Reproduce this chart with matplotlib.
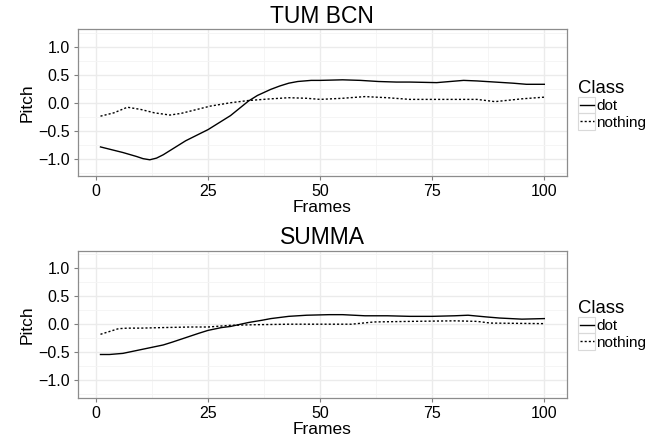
import matplotlib.pyplot as plt
import matplotlib.lines as mlines
from matplotlib.patches import Rectangle
import numpy as np

plt.rcParams["font.family"] = ["Liberation Sans", "DejaVu Sans"]

W, H = 667, 436

# TUM BCN
tum_dot_x = [1, 3, 6, 9, 10.5, 12, 13.5, 15, 17, 20, 22, 25, 28, 30, 32, 34, 36, 39, 41, 43, 45, 48,
             50, 55, 59, 63, 67, 70, 73, 76, 79, 82, 85, 89, 93, 96, 100]
tum_dot_y = [-0.79, -0.83, -0.89, -0.96, -1.0, -1.02, -0.99, -0.93, -0.83, -0.68, -0.60, -0.48,
             -0.33, -0.23, -0.10, 0.03, 0.13, 0.24, 0.30, 0.35, 0.38, 0.40,
             0.40, 0.41, 0.40, 0.38, 0.37, 0.37, 0.365, 0.36, 0.38, 0.40, 0.39, 0.37, 0.35, 0.33,
             0.33]
tum_nothing_x = [1, 4, 7, 10, 13, 16.5, 19, 21, 25.5, 30, 34, 39, 43, 47, 50, 55, 60, 65, 70, 75,
                 80, 85, 89, 95, 100]
tum_nothing_y = [-0.24, -0.18, -0.08, -0.12, -0.18, -0.22, -0.19, -0.15, -0.06, 0.0, 0.04, 0.07,
                 0.09, 0.08, 0.06, 0.08, 0.11, 0.09, 0.06, 0.06, 0.06, 0.06, 0.02, 0.07, 0.10]

# SUMMA
summa_dot_x = [1, 3, 6, 9, 12, 15, 17, 20, 23, 25, 28, 30, 34, 37, 39, 43, 47, 52, 55, 60, 65,
               70, 75, 80, 83, 87, 90, 95, 100]
summa_dot_y = [-0.54, -0.54, -0.52, -0.47, -0.42, -0.37, -0.32, -0.24, -0.16, -0.11, -0.06, -0.04,
               0.03, 0.07, 0.10, 0.14, 0.16, 0.17, 0.17, 0.15, 0.15, 0.14, 0.14, 0.15, 0.16, 0.13,
               0.11, 0.09, 0.10]
summa_nothing_x = [1, 3, 5, 7, 10, 15, 21, 25, 30, 35, 43, 50, 57, 62, 70, 80, 85, 88, 100]
summa_nothing_y = [-0.18, -0.13, -0.08, -0.07, -0.07, -0.06, -0.05, -0.05, -0.02, -0.01, 0.00,
                   0.00, 0.00, 0.04, 0.05, 0.06, 0.05, 0.02, 0.01]

classes = ["dot", "nothing"]
styles = ["-", (0, (1.5, 1.5))]

panels = [
    ("TUM BCN", tum_dot_x, tum_dot_y, tum_nothing_x, tum_nothing_y),
    ("SUMMA", summa_dot_x, summa_dot_y, summa_nothing_x, summa_nothing_y),
]


def fx(px):
    return px / W


def fy(py):
    return 1 - py / H


fig = plt.figure(figsize=(W / 100, H / 100), dpi=100)
left, width = fx(78.3), (566.5 - 78.3) / W
# (panel top, panel bottom, legend offset) in pixels
boxes = [(29.5, 176, 0), (250.7, 397.7, 220)]

for (title, dx, dy, nx, ny), (top, bot, off) in zip(panels, boxes):
    ax = fig.add_axes([left, fy(bot), width, (bot - top) / H])
    ax.plot(dx, dy, color="black", lw=1.0, ls=styles[0])
    ax.plot(nx, ny, color="black", lw=1.0, ls=styles[1])
    ax.set_xlim(-3.95, 104.95)
    ax.set_ylim(-1.31, 1.31)
    ax.set_xticks([0, 25, 50, 75, 100])
    ax.set_yticks([-1.0, -0.5, 0.0, 0.5, 1.0])
    ax.set_yticklabels(["\u22121.0", "\u22120.5", "0.0", "0.5", "1.0"])
    ax.set_xticks(np.arange(12.5, 100, 25), minor=True)
    ax.set_yticks([-1.25, -0.75, -0.25, 0.25, 0.75, 1.25], minor=True)
    ax.grid(which="major", color="#ebebeb", lw=1.0)
    ax.grid(which="minor", color="#f4f4f4", lw=0.6)
    ax.set_axisbelow(True)
    ax.tick_params(which="major", length=3, width=0.8, color="#7f7f7f", labelsize=11.5, pad=3,
                   labelcolor="black")
    ax.tick_params(which="minor", length=0)
    for s in ax.spines.values():
        s.set_color("#8c8c8c")
        s.set_linewidth(0.9)
    ax.set_title(title, fontsize=16.5, pad=5)
    ax.set_xlabel("Frames", fontsize=12.5, labelpad=0.5)
    ax.set_ylabel("Pitch", fontsize=12.5, labelpad=3)

    # legend drawn by hand, ggplot style
    fig.text(fx(578), fy(93 + off), "Class", fontsize=13.3, ha="left", va="baseline")
    for i, (lab, ls) in enumerate(zip(classes, styles)):
        y0 = 96.7 + off + i * 16.5
        fig.patches.append(Rectangle((fx(578), fy(y0 + 16.5)), 16.5 / W, 16.5 / H,
                                     transform=fig.transFigure, fill=False,
                                     edgecolor="#d9d9d9", lw=0.8))
        fig.lines.append(mlines.Line2D([fx(579.5), fx(593.5)], [fy(y0 + 8.25)] * 2,
                                       transform=fig.transFigure, color="black", lw=1.0, ls=ls))
        fig.text(fx(596.5), fy(y0 + 8.25), lab, fontsize=11, ha="left", va="center_baseline")

fig.savefig("out.png", dpi=100)
